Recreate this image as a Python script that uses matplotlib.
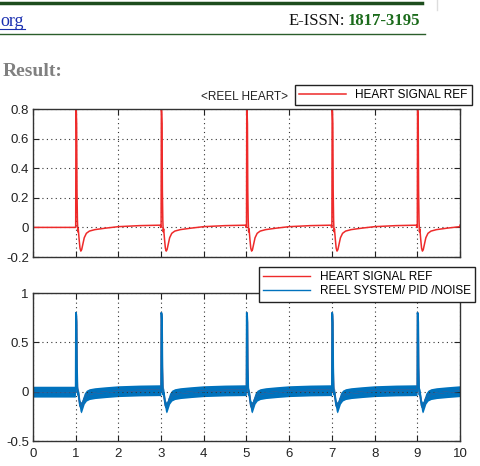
import matplotlib
matplotlib.use('Agg')
import matplotlib.pyplot as plt
from matplotlib.lines import Line2D
import numpy as np

# one heart beat (time after onset, amplitude)
beat_times = [1, 3, 5, 7, 9]
beat_offsets = [-0.01, 0.0, 0.006, 0.014, 0.022, 0.03, 0.04, 0.05, 0.06,
                0.08, 0.10, 0.12, 0.14, 0.17, 0.20, 0.25, 0.32, 0.45,
                0.70, 1.00, 1.50, 1.98]
beat_values = [0.0, 0.0, 0.80, 0.78, 0.70, 0.25, 0.05, -0.03, -0.01,
               -0.08, -0.14, -0.16, -0.15, -0.11, -0.07, -0.04, -0.025,
               -0.015, -0.005, 0.005, 0.012, 0.015]
# half thickness of the noisy blue band at the same offsets
beat_noise = [0.055, 0.0, 0.0, 0.0, 0.0, 0.0, 0.02, 0.04, 0.05,
              0.055, 0.055, 0.055, 0.055, 0.055, 0.055, 0.055, 0.055,
              0.055, 0.055, 0.055, 0.055, 0.055]

x_ticks = [0, 1, 2, 3, 4, 5, 6, 7, 8, 9, 10]
top_yticks = [-0.2, 0, 0.2, 0.4, 0.6, 0.8]
top_ylabels = ['-0.2', '0', '0.2', '0.4', '0.6', '0.8']
bot_yticks = [-0.5, 0, 0.5, 1]
bot_ylabels = ['-0.5', '0', '0.5', '1']

RED = '#ee2a2a'
BLUE = '#0072BD'
W, H = 480, 466

t, ref, noise = [0.0], [0.0], [0.055]
for b in beat_times:
    for o, v, n in zip(beat_offsets, beat_values, beat_noise):
        t.append(b + o)
        ref.append(v)
        noise.append(n)
t.append(10.0)
ref.append(beat_values[-1])
noise.append(beat_noise[-1])
t, ref, noise = np.array(t), np.array(ref), np.array(noise)


def px(x, y):
    return x / W, 1 - y / H


def style_axes(ax, yticks, ylabels, show_x):
    ax.set_xlim(0, 10)
    ax.set_xticks(x_ticks)
    ax.set_yticks(yticks)
    ax.set_yticklabels(ylabels)
    if not show_x:
        ax.set_xticklabels([])
    ax.tick_params(direction='in', top=True, right=True, length=4,
                   width=0.8, labelsize=9.5, pad=3, colors='#222222')
    ax.tick_params(axis='x', pad=5)
    ax.grid(True, color='#333333', linestyle=(0, (1, 3)), linewidth=0.8)
    for s in ax.spines.values():
        s.set_color('#333333')
        s.set_linewidth(1.0)


plt.rcParams['font.family'] = ['Liberation Sans', 'DejaVu Sans']
fig = plt.figure(figsize=(W / 100, H / 100), dpi=100)

ax1 = fig.add_axes([33 / W, 1 - 257 / H, 427 / W, 148 / H])
ax1.plot(t, ref, color=RED, lw=1.1, label='HEART SIGNAL REF')
ax1.set_ylim(-0.2, 0.8)
style_axes(ax1, top_yticks, top_ylabels, False)
leg1 = ax1.legend(loc='upper right', bbox_to_anchor=px(472, 85),
                  bbox_transform=fig.transFigure, fontsize=8.5,
                  fancybox=False, framealpha=1, edgecolor='#222222',
                  handlelength=4, borderpad=0.35, borderaxespad=0)
leg1.get_frame().set_linewidth(1.0)
fig.text(*px(245, 97), '<REEL HEART>', ha='center', va='center',
         fontsize=8.5, color='#222222')

ax2 = fig.add_axes([33 / W, 1 - 441 / H, 427 / W, 148 / H])
ax2.plot(t, ref, color=RED, lw=1.0, label='HEART SIGNAL REF')
ax2.fill_between(t, ref - noise, ref + noise, color=BLUE, lw=0)
ax2.plot(t, ref, color=BLUE, lw=1.3, label='REEL SYSTEM/ PID /NOISE')
ax2.set_ylim(-0.5, 1)
style_axes(ax2, bot_yticks, bot_ylabels, True)
leg2 = ax2.legend(loc='upper right', bbox_to_anchor=px(475, 267),
                  bbox_transform=fig.transFigure, fontsize=8.5,
                  fancybox=False, framealpha=1, edgecolor='#222222',
                  handlelength=4, borderpad=0.35, borderaxespad=0,
                  labelspacing=0.2)
leg2.get_frame().set_linewidth(1.0)
for ln in leg2.get_lines():
    ln.set_linewidth(1.0)
leg2.set_zorder(10)

# page header from the paper around the figure
serif = ['Liberation Serif', 'DejaVu Serif']
fig.add_artist(Line2D([0, 422 / W], [1 - 2.5 / H] * 2, color='#1d4d1d', lw=2.5))
fig.add_artist(Line2D([437 / W] * 2, [1, 1 - 10 / H], color='#dddddd', lw=1))
fig.text(*px(0, 21), 'org', ha='left', va='center', fontsize=13,
         family=serif, color='#1a2fb0')
fig.add_artist(Line2D([0, 25 / W], [1 - 29 / H] * 2, color='#1a2fb0', lw=0.8))
fig.text(*px(420, 21), '1817-3195', ha='right', va='center', fontsize=12,
         family=serif, weight='bold', color='#1b6b1b')
fig.text(*px(345, 21), 'E-ISSN:', ha='right', va='center', fontsize=12,
         family=serif, color='#111111')
fig.add_artist(Line2D([0, 425 / W], [1 - 34 / H] * 2, color='#2b5e2b', lw=1))
fig.text(*px(3, 72), 'Result:', ha='left', va='center', fontsize=14,
         family=serif, weight='bold', color='#808080')

fig.savefig('out.png', dpi=100)
